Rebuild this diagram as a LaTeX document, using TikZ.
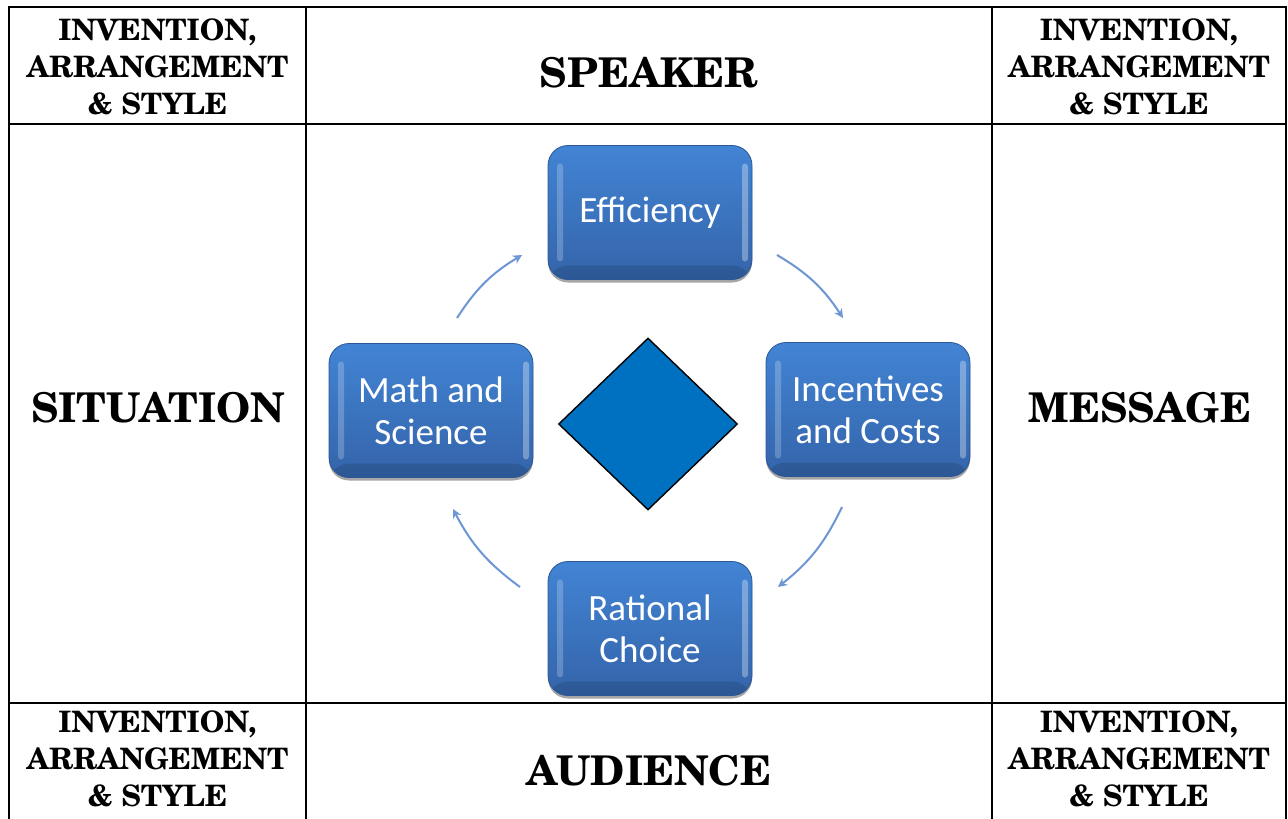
\documentclass[tikz,border=0pt]{standalone}
\usepackage[T1,TU]{fontenc}
\usepackage{fontspec}
\newfontfamily\boxfont{Carlito}
\newcommand\headfont{\fontencoding{T1}\fontfamily{pnc}\fontseries{b}\fontshape{n}\selectfont}
\usetikzlibrary{shapes.geometric,arrows.meta,shadows}
\definecolor{boxtop}{RGB}{66,132,212}
\definecolor{boxbot}{RGB}{52,100,170}
\definecolor{boxedge}{RGB}{44,86,150}
\definecolor{dia}{RGB}{0,112,192}
\definecolor{arrowc}{RGB}{108,150,212}
\tikzset{
  gridline/.style={line width=2pt, black},
  smallhead/.style={align=center, inner sep=0pt, font=\headfont\fontsize{29.5}{37}\selectfont},
  bighead/.style={inner sep=0pt, font=\headfont\fontsize{41}{46}\selectfont},
  cbox/.style={rectangle, rounded corners=20pt, minimum width=204pt, minimum height=134pt,
    inner sep=0pt, align=center, text=white, font=\boxfont\fontsize{37}{42}\selectfont,
    top color=boxtop, bottom color=boxbot, draw=boxedge, line width=0.8pt,
    drop shadow={shadow xshift=0pt, shadow yshift=-3pt, opacity=0.35, fill=black},
    path picture={
      \fill[white, opacity=0.22, rounded corners=3pt]
        ([xshift=9pt, yshift=-18pt]path picture bounding box.north west) rectangle
        ([xshift=15pt, yshift=18pt]path picture bounding box.south west);
      \fill[white, opacity=0.32, rounded corners=3pt]
        ([xshift=-4pt, yshift=-18pt]path picture bounding box.north east) rectangle
        ([xshift=-10pt, yshift=18pt]path picture bounding box.south east);
      \fill[black, opacity=0.12]
        (path picture bounding box.south west) rectangle
        ([yshift=14pt]path picture bounding box.south east);
    }},
  cyc/.style={draw=arrowc, line width=2pt, -{Stealth[length=9pt,width=9pt]}, bend left=13},
}
\begin{document}
\begin{tikzpicture}[x=1pt, y=-1pt]
\useasboundingbox (0,0) rectangle (1288,819);
\fill[white] (0,0) rectangle (1288,819);
% table grid
\draw[gridline] (9,7) -- (1286,7);
\draw[gridline] (9,124) -- (1286,124);
\draw[gridline] (9,703) -- (1286,703);
\draw[gridline] (9,6) -- (9,819);
\draw[gridline] (306,6) -- (306,819);
\draw[gridline] (992,6) -- (992,819);
\draw[gridline] (1286,6) -- (1286,819);
% headings
\node[smallhead] (tl) at (157.5,67) {INVENTION,\\ARRANGEMENT\\\& STYLE};
\node[smallhead] (tr) at (1139,67) {INVENTION,\\ARRANGEMENT\\\& STYLE};
\node[smallhead] (bl) at (157.5,759) {INVENTION,\\ARRANGEMENT\\\& STYLE};
\node[smallhead] (br) at (1139,759) {INVENTION,\\ARRANGEMENT\\\& STYLE};
\node[bighead] (speaker) at (649,73) {SPEAKER};
\node[bighead] (audience) at (649,771) {AUDIENCE};
\node[bighead] (situation) at (158,408) {SITUATION};
\node[bighead] (message) at (1140,408) {MESSAGE};
% cycle
\node[diamond, draw=black, fill=dia, line width=1.4pt, inner sep=0pt, aspect=1.04,
      minimum width=179pt, minimum height=172pt] (dmd) at (648,424) {};
\node[cbox] (eff) at (650,212.5) {Efficiency};
\node[cbox] (math) at (431,410.5) {Math and\\Science};
\node[cbox] (inc) at (868,409.5) {Incentives\\and Costs};
\node[cbox] (rat) at (650,628.5) {Rational\\Choice};
\coordinate (a1s) at (457,318); \coordinate (a1e) at (522,255);
\coordinate (a2s) at (777,255); \coordinate (a2e) at (843,318);
\coordinate (a3s) at (842,507); \coordinate (a3e) at (778,587);
\coordinate (a4s) at (520,587); \coordinate (a4e) at (453,509);
\draw[cyc] (a1s) to (a1e);
\draw[cyc] (a2s) to (a2e);
\draw[cyc] (a3s) to (a3e);
\draw[cyc] (a4s) to (a4e);
\end{tikzpicture}
\end{document}
